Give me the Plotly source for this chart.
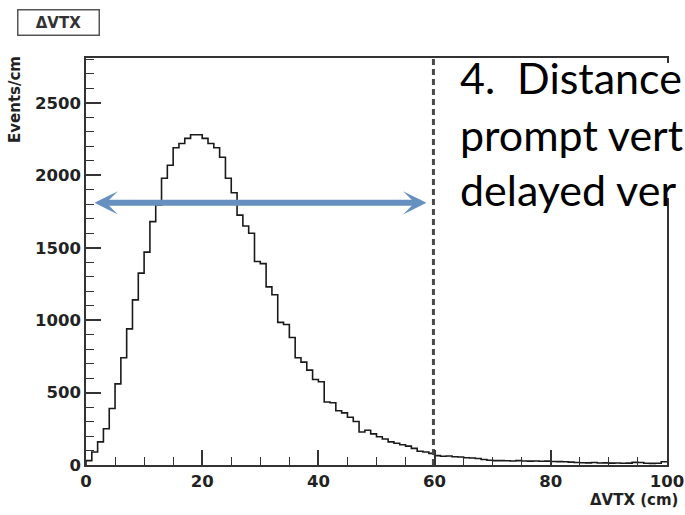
import plotly.graph_objects as go

# ---- data -------------------------------------------------------------
X_MIN = 0
X_MAX = 100
BIN_WIDTH = 1
counts = [
    30, 90, 160, 250, 390, 560, 740, 940, 1140, 1325,
    1470, 1680, 1795, 1980, 2070, 2190, 2220, 2255, 2280, 2280,
    2255, 2220, 2190, 2125, 1980, 1880, 1725, 1650, 1600, 1405,
    1390, 1230, 1175, 985, 970, 880, 740, 710, 655, 590,
    575, 435, 430, 375, 360, 330, 300, 228, 240, 215,
    195, 180, 160, 150, 140, 130, 115, 95, 90, 80,
    65, 60, 62, 57, 55, 50, 48, 45, 38, 33,
    30, 30, 29, 28, 30, 28, 27, 28, 26, 27,
    24, 23, 22, 20, 17, 16, 15, 17, 14, 15,
    13, 14, 12, 13, 18, 17, 12, 11, 12, 22,
]
y_tick_values = [0, 500, 1000, 1500, 2000, 2500]
y_tick_labels = ["0", "500", "1000", "1500", "2000", "2500"]
x_tick_values = [0, 20, 40, 60, 80, 100]
x_tick_labels = ["0", "20", "40", "60", "80", "100"]
Y_MAX = 2810
CUT_X = 59.8
ARROW_Y = 1810
ARROW_X_START = 1.2
ARROW_X_END = 58.6
text_lines = ["4.  Distance", "prompt vert", "delayed ver"]
hist_title = "ΔVTX"
x_title = "ΔVTX (cm)"
y_title = "Events/cm"

# ---- build step histogram ---------------------------------------------
edges = [X_MIN + i * BIN_WIDTH for i in range(len(counts) + 1)]
step_x = [edges[0]] + edges
step_y = [0] + counts + [counts[-1]]

fig = go.Figure()
fig.add_trace(go.Scatter(
    x=step_x, y=step_y, mode="lines", line_shape="hv",
    line=dict(color="#1a1a1a", width=1.6), hoverinfo="skip", showlegend=False,
))
# dashed cut line
fig.add_trace(go.Scatter(
    x=[CUT_X, CUT_X], y=[0, Y_MAX], mode="lines",
    line=dict(color="#4a4a4a", width=3, dash="6px,4px"),
    hoverinfo="skip", showlegend=False,
))

axis_common = dict(
    showgrid=False, zeroline=False, showline=True, linecolor="#333333",
    linewidth=1.5, mirror=True, ticks="inside", tickcolor="#333333",
    tickwidth=1.5, ticklen=15, ticklabeloverflow="allow",
    tickfont=dict(family="DejaVu Sans", size=16.5, color="#222222", weight="bold"),
)

fig.update_xaxes(
    range=[X_MIN, X_MAX], tickmode="array", tickvals=x_tick_values,
    ticktext=x_tick_labels,
    minor=dict(ticks="inside", dtick=5, ticklen=8, tickcolor="#333333", tickwidth=1.3),
    **axis_common,
)
fig.update_yaxes(
    range=[0, Y_MAX], tickmode="array", tickvals=y_tick_values,
    ticktext=y_tick_labels,
    minor=dict(ticks="inside", dtick=100, ticklen=8, tickcolor="#333333", tickwidth=1.3),
    **axis_common,
)

L, R, T, B = 86, 18, 58, 50
W, H = 685, 515
pw, ph = W - L - R, H - T - B

def px_x(px):
    return (px - L) / pw

def px_y(py):
    return (H - B - py) / ph

annotations = []
# blue double arrow
annotations.append(dict(
    x=ARROW_X_END, y=ARROW_Y, ax=ARROW_X_START, ay=ARROW_Y,
    xref="x", yref="y", axref="x", ayref="y", text="", showarrow=True,
    arrowhead=3, startarrowhead=3, arrowside="end+start",
    arrowsize=0.65, startarrowsize=0.65, arrowwidth=6, arrowcolor="#6690c0",
))
# hist title box
annotations.append(dict(
    x=px_x(17), y=px_y(9), xref="paper", yref="paper", xanchor="left", yanchor="top",
    text="<b>" + hist_title + "</b>", showarrow=False,
    font=dict(family="DejaVu Sans", size=15, color="#333333"),
    bgcolor="white", bordercolor="#555555", borderwidth=1.5,
    width=78, height=22, borderpad=1,
))
# axis titles
annotations.append(dict(
    x=px_x(680), y=px_y(500), xref="paper", yref="paper", xanchor="right", yanchor="middle",
    text="<b>" + x_title + "</b>", showarrow=False,
    font=dict(family="DejaVu Sans", size=15, color="#222222"),
))
annotations.append(dict(
    x=px_x(15), y=px_y(100), xref="paper", yref="paper", xanchor="center", yanchor="middle",
    text="<b>" + y_title + "</b>", showarrow=False, textangle=-90,
    font=dict(family="DejaVu Sans", size=15, color="#222222"),
))
# slide text
line_centers = [78, 134, 189]
for txt, cy in zip(text_lines, line_centers):
    annotations.append(dict(
        x=px_x(458), y=px_y(cy), xref="paper", yref="paper", xanchor="left", yanchor="middle",
        text=txt, showarrow=False,
        font=dict(family="Lato", size=43, color="#000000"),
    ))

fig.update_layout(
    width=W, height=H, margin=dict(l=L, r=R, t=T, b=B, autoexpand=False),
    paper_bgcolor="white", plot_bgcolor="white", showlegend=False,
    annotations=annotations,
    shapes=[dict(
        type="rect", xref="paper", yref="paper", layer="above",
        x0=px_x(446), x1=px_x(700), y0=px_y(198), y1=px_y(63),
        fillcolor="white", line=dict(width=0),
    )],
)

fig.write_html("out.html")
